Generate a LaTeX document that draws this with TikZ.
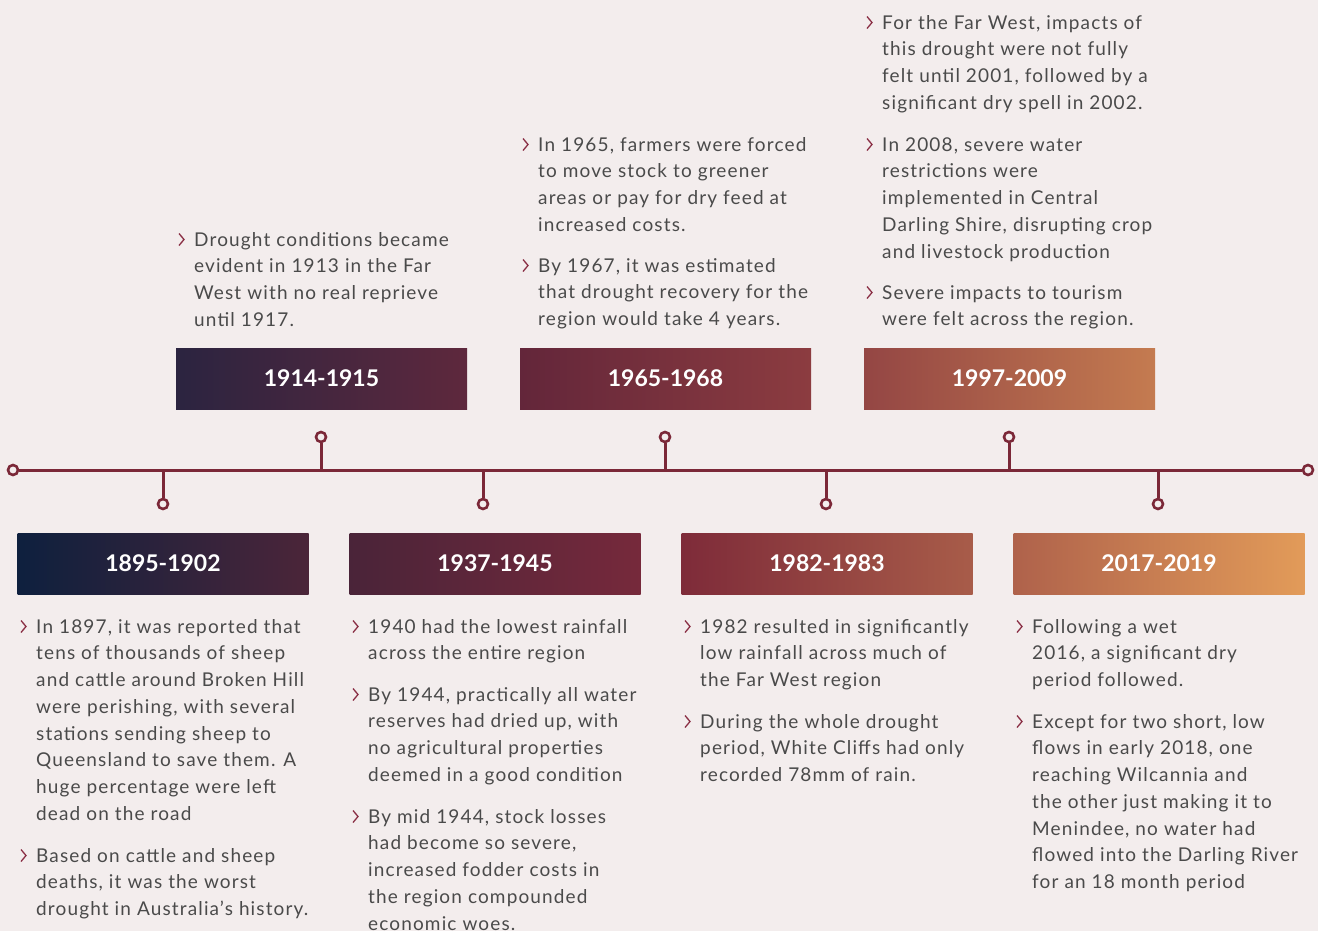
\documentclass[tikz,border=0pt]{standalone}
\usepackage{fontspec}
\setmainfont{Lato}[LetterSpace=6]
\newfontfamily\labelfont{Lato}

\definecolor{bg}{HTML}{F3EDED}
\definecolor{tline}{HTML}{7B2838}
\definecolor{ink}{HTML}{4A4A4A}
\definecolor{chev}{HTML}{8A2F45}
% box gradients
\definecolor{aL}{HTML}{0E203E}\definecolor{aR}{HTML}{4B2539}
\definecolor{bL}{HTML}{2B2440}\definecolor{bR}{HTML}{5E283D}
\definecolor{cL}{HTML}{4A2439}\definecolor{cR}{HTML}{76293B}
\definecolor{dL}{HTML}{63263A}\definecolor{dR}{HTML}{8C3C40}
\definecolor{eL}{HTML}{7E2B39}\definecolor{eR}{HTML}{A85C49}
\definecolor{fL}{HTML}{944644}\definecolor{fR}{HTML}{C47B50}
\definecolor{gL}{HTML}{AF624B}\definecolor{gR}{HTML}{E29B59}

\tikzset{chev/.pic={\draw[chevline] (0,0) -- (5,6) -- (0,12);}}

% one bullet paragraph: name, x, baseline y of first line, text
\newcommand\note[4]{%
  \node[note] (#1) at (#2,#3-18.69) {\strut#4};
  \pic at ([xshift=-15pt,yshift=-6.2pt]#1.north west) {chev};}

\begin{document}
\begin{tikzpicture}[x=1pt,y=-1pt,
    axis/.style={draw=tline, line width=3pt},
    dot/.style={circle, draw=tline, line width=2.6pt, fill=bg, minimum size=10pt, inner sep=0pt},
    period/.style={minimum width=291pt, minimum height=61pt, inner sep=0pt, text=white,
      font=\labelfont\fontsize{23}{26}\selectfont\bfseries},
    note/.style={anchor=north west, align=left, inner sep=0pt, text=ink,
      font=\fontsize{19}{26.7}\selectfont},
    chevline/.style={draw=chev, line width=1.3pt}]

	\fill[bg] (0,0) rectangle (1318,931);
	\useasboundingbox (0,0) rectangle (1318,931);

	% timeline
	\node[dot] (start) at (13,470)   {};
	\node[dot] (end)   at (1308,470) {};
	\draw[axis] (start) -- (end);

	\coordinate (t1895) at (163,470);
	\coordinate (t1914) at (321,470);
	\coordinate (t1937) at (483,470);
	\coordinate (t1965) at (665,470);
	\coordinate (t1982) at (826,470);
	\coordinate (t1997) at (1009,470);
	\coordinate (t2017) at (1158,470);

	\node[dot] (d1895) at (163,504)  {};
	\node[dot] (d1914) at (321,437)  {};
	\node[dot] (d1937) at (483,504)  {};
	\node[dot] (d1965) at (665,437)  {};
	\node[dot] (d1982) at (826,504)  {};
	\node[dot] (d1997) at (1009,437) {};
	\node[dot] (d2017) at (1158,504) {};

	\draw[axis] (t1895) -- (d1895);
	\draw[axis] (t1914) -- (d1914);
	\draw[axis] (t1937) -- (d1937);
	\draw[axis] (t1965) -- (d1965);
	\draw[axis] (t1982) -- (d1982);
	\draw[axis] (t1997) -- (d1997);
	\draw[axis] (t2017) -- (d2017);

	% period boxes
	\node[period, left color=aL, right color=aR] (p1895) at (163,563.5)  {1895-1902};
	\node[period, left color=cL, right color=cR] (p1937) at (495,563.5)  {1937-1945};
	\node[period, left color=eL, right color=eR] (p1982) at (827,563.5)  {1982-1983};
	\node[period, left color=gL, right color=gR] (p2017) at (1159,563.5) {2017-2019};
	\node[period, left color=bL, right color=bR] (p1914) at (321.5,378.5)  {1914-1915};
	\node[period, left color=dL, right color=dR] (p1965) at (665.5,378.5)  {1965-1968};
	\node[period, left color=fL, right color=fR] (p1997) at (1009.5,378.5) {1997-2009};

	% notes below the line
	\note{n1895a}{36}{633}{In 1897, it was reported that\\tens of thousands of sheep\\and cattle around Broken Hill\\were perishing, with several\\stations sending sheep to\\Queensland to save them. A\\huge percentage were left\\dead on the road}
	\note{n1895b}{36}{862}{Based on cattle and sheep\\deaths, it was the worst\\drought in Australia’s history.}

	\note{n1937a}{368}{633}{1940 had the lowest rainfall\\across the entire region}
	\note{n1937b}{368}{701}{By 1944, practically all water\\reserves had dried up, with\\no agricultural properties\\deemed in a good condition}
	\note{n1937c}{368}{823}{By mid 1944, stock losses\\had become so severe,\\increased fodder costs in\\the region compounded\\economic woes.}

	\note{n1982a}{700}{633}{1982 resulted in significantly\\low rainfall across much of\\the Far West region}
	\note{n1982b}{700}{728}{During the whole drought\\period, White Cliffs had only\\recorded 78mm of rain.}

	\note{n2017a}{1032}{633}{Following a wet\\2016, a significant dry\\period followed.}
	\note{n2017b}{1032}{728}{Except for two short, low\\flows in early 2018, one\\reaching Wilcannia and\\the other just making it to\\Menindee, no water had\\flowed into the Darling River\\for an 18 month period}

	% notes above the line
	\note{n1914a}{194}{246}{Drought conditions became\\evident in 1913 in the Far\\West with no real reprieve\\until 1917.}

	\note{n1965a}{538}{151}{In 1965, farmers were forced\\to move stock to greener\\areas or pay for dry feed at\\increased costs.}
	\note{n1965b}{538}{272}{By 1967, it was estimated\\that drought recovery for the\\region would take 4 years.}

	\note{n1997a}{882}{29}{For the Far West, impacts of\\this drought were not fully\\felt until 2001, followed by a\\significant dry spell in 2002.}
	\note{n1997b}{882}{151}{In 2008, severe water\\restrictions were\\implemented in Central\\Darling Shire, disrupting crop\\and livestock production}
	\note{n1997c}{882}{299}{Severe impacts to tourism\\were felt across the region.}
\end{tikzpicture}
\end{document}
